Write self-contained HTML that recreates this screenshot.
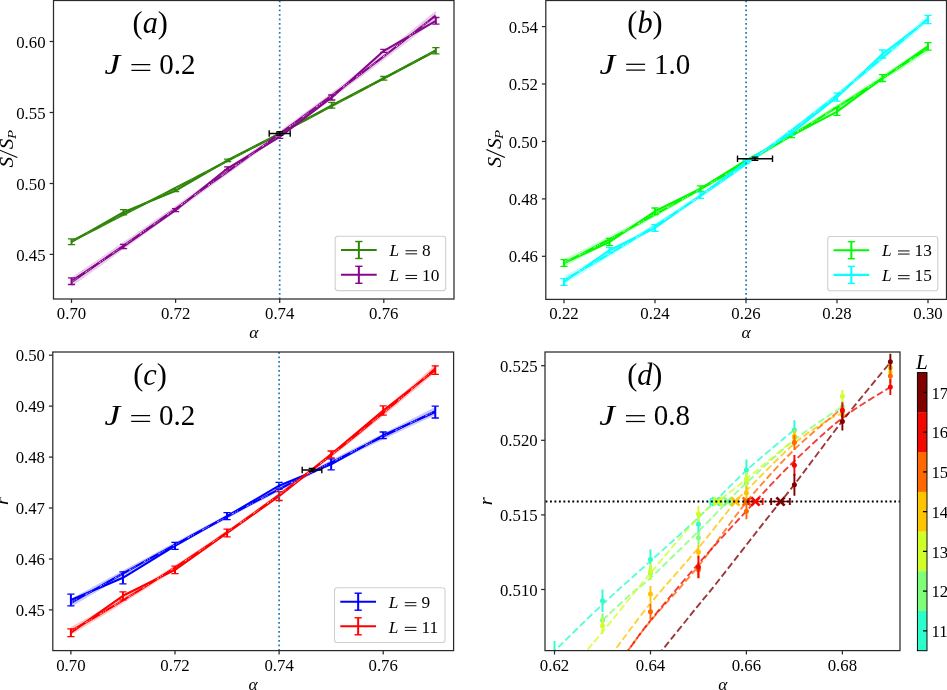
<!DOCTYPE html>
<html><head><meta charset="utf-8"><title>figure</title>
<style>html,body{margin:0;padding:0;background:#fff;}body{width:947px;height:690px;overflow:hidden;font-family:"Liberation Serif",serif;}svg{display:block;will-change:transform;}</style></head>
<body>
<svg width="947" height="690" viewBox="0 0 947 690" font-family="'Liberation Serif', serif">
<rect width="947" height="690" fill="#fff"/>
<g id="pa">
<clipPath id="ca"><rect x="53.5" y="0.5" width="400.5" height="298.5"/></clipPath>
<g clip-path="url(#ca)">
<polygon points="71.5,239.63 80.84,234.94 90.18,230.23 99.53,225.52 108.87,220.79 118.21,216.06 127.55,211.31 136.9,206.55 146.24,201.78 155.58,197.01 164.92,192.22 174.27,187.42 183.61,182.61 192.95,177.79 202.29,172.96 211.63,168.12 220.98,163.27 230.32,158.41 239.66,153.54 249,148.66 258.35,143.77 267.69,138.86 277.03,133.95 286.37,129.03 295.72,124.09 305.06,119.15 314.4,114.2 323.74,109.23 333.08,104.26 342.43,99.27 351.77,94.28 361.11,89.27 370.45,84.25 379.8,79.23 389.14,74.19 398.48,69.14 407.82,64.09 417.17,59.02 426.51,53.94 435.85,48.85 435.85,52.05 426.51,57.02 417.17,61.98 407.82,66.94 398.48,71.9 389.14,76.85 379.8,81.8 370.45,86.75 361.11,91.69 351.77,96.62 342.43,101.56 333.08,106.49 323.74,111.41 314.4,116.33 305.06,121.25 295.72,126.16 286.37,131.07 277.03,135.97 267.69,140.87 258.35,145.77 249,150.66 239.66,155.55 230.32,160.43 220.98,165.31 211.63,170.18 202.29,175.06 192.95,179.92 183.61,184.79 174.27,189.65 164.92,194.5 155.58,199.35 146.24,204.2 136.9,209.04 127.55,213.88 118.21,218.72 108.87,223.55 99.53,228.38 90.18,233.2 80.84,238.02 71.5,242.83" fill="#2e8506" fill-opacity="0.18"/>
<polyline points="71.5,241.8 123.55,212.2 175.6,190.7 227.65,160.3 279.7,133.6 331.75,105.3 383.8,78.3 435.85,50.8" fill="none" stroke="#2e8506" stroke-width="2.1" stroke-linejoin="round"/>
<polyline points="71.5,241.23 80.84,236.48 90.18,231.72 99.53,226.95 108.87,222.17 118.21,217.39 127.55,212.6 136.9,207.8 146.24,202.99 155.58,198.18 164.92,193.36 174.27,188.53 183.61,183.7 192.95,178.86 202.29,174.01 211.63,169.15 220.98,164.29 230.32,159.42 239.66,154.54 249,149.66 258.35,144.77 267.69,139.87 277.03,134.96 286.37,130.05 295.72,125.13 305.06,120.2 314.4,115.26 323.74,110.32 333.08,105.37 342.43,100.41 351.77,95.45 361.11,90.48 370.45,85.5 379.8,80.52 389.14,75.52 398.48,70.52 407.82,65.51 417.17,60.5 426.51,55.48 435.85,50.45" fill="none" stroke="#2e8506" stroke-width="2.1" />
<polyline points="71.5,241.23 80.84,236.48 90.18,231.72 99.53,226.95 108.87,222.17 118.21,217.39 127.55,212.6 136.9,207.8 146.24,202.99 155.58,198.18 164.92,193.36 174.27,188.53 183.61,183.7 192.95,178.86 202.29,174.01 211.63,169.15 220.98,164.29 230.32,159.42 239.66,154.54 249,149.66 258.35,144.77 267.69,139.87 277.03,134.96 286.37,130.05 295.72,125.13 305.06,120.2 314.4,115.26 323.74,110.32 333.08,105.37 342.43,100.41 351.77,95.45 361.11,90.48 370.45,85.5 379.8,80.52 389.14,75.52 398.48,70.52 407.82,65.51 417.17,60.5 426.51,55.48 435.85,50.45" fill="none" stroke="#fff" stroke-width="0.9" stroke-dasharray="2.6 1.3 1 1.3 1 9.5" stroke-opacity="0.192"/>
<line x1="71.5" y1="238.9" x2="71.5" y2="244.7" stroke="#2e8506" stroke-width="2" />
<line x1="67.9" y1="238.9" x2="75.1" y2="238.9" stroke="#2e8506" stroke-width="1.3" />
<line x1="67.9" y1="244.7" x2="75.1" y2="244.7" stroke="#2e8506" stroke-width="1.3" />
<line x1="123.55" y1="209.6" x2="123.55" y2="214.8" stroke="#2e8506" stroke-width="2" />
<line x1="119.95" y1="209.6" x2="127.15" y2="209.6" stroke="#2e8506" stroke-width="1.3" />
<line x1="119.95" y1="214.8" x2="127.15" y2="214.8" stroke="#2e8506" stroke-width="1.3" />
<line x1="175.6" y1="189.7" x2="175.6" y2="191.7" stroke="#2e8506" stroke-width="2" />
<line x1="172" y1="189.7" x2="179.2" y2="189.7" stroke="#2e8506" stroke-width="1.3" />
<line x1="172" y1="191.7" x2="179.2" y2="191.7" stroke="#2e8506" stroke-width="1.3" />
<line x1="227.65" y1="159.1" x2="227.65" y2="161.5" stroke="#2e8506" stroke-width="2" />
<line x1="224.05" y1="159.1" x2="231.25" y2="159.1" stroke="#2e8506" stroke-width="1.3" />
<line x1="224.05" y1="161.5" x2="231.25" y2="161.5" stroke="#2e8506" stroke-width="1.3" />
<line x1="279.7" y1="132.6" x2="279.7" y2="134.6" stroke="#2e8506" stroke-width="2" />
<line x1="276.1" y1="132.6" x2="283.3" y2="132.6" stroke="#2e8506" stroke-width="1.3" />
<line x1="276.1" y1="134.6" x2="283.3" y2="134.6" stroke="#2e8506" stroke-width="1.3" />
<line x1="331.75" y1="102.4" x2="331.75" y2="108.2" stroke="#2e8506" stroke-width="2" />
<line x1="328.15" y1="102.4" x2="335.35" y2="102.4" stroke="#2e8506" stroke-width="1.3" />
<line x1="328.15" y1="108.2" x2="335.35" y2="108.2" stroke="#2e8506" stroke-width="1.3" />
<line x1="383.8" y1="76.5" x2="383.8" y2="80.1" stroke="#2e8506" stroke-width="2" />
<line x1="380.2" y1="76.5" x2="387.4" y2="76.5" stroke="#2e8506" stroke-width="1.3" />
<line x1="380.2" y1="80.1" x2="387.4" y2="80.1" stroke="#2e8506" stroke-width="1.3" />
<line x1="435.85" y1="47.7" x2="435.85" y2="53.9" stroke="#2e8506" stroke-width="2" />
<line x1="432.25" y1="47.7" x2="439.45" y2="47.7" stroke="#2e8506" stroke-width="1.3" />
<line x1="432.25" y1="53.9" x2="439.45" y2="53.9" stroke="#2e8506" stroke-width="1.3" />
<polygon points="71.5,277.35 80.84,271.05 90.18,264.73 99.53,258.38 108.87,252 118.21,245.6 127.55,239.17 136.9,232.72 146.24,226.25 155.58,219.74 164.92,213.22 174.27,206.67 183.61,200.09 192.95,193.49 202.29,186.87 211.63,180.22 220.98,173.54 230.32,166.84 239.66,160.12 249,153.37 258.35,146.59 267.69,139.79 277.03,132.97 286.37,126.12 295.72,119.25 305.06,112.35 314.4,105.42 323.74,98.47 333.08,91.49 342.43,84.4 351.77,77.29 361.11,70.15 370.45,62.99 379.8,55.8 389.14,48.43 398.48,40.92 407.82,33.39 417.17,25.83 426.51,18.25 435.85,10.65 435.85,20.05 426.51,27.25 417.17,34.46 407.82,41.66 398.48,48.85 389.14,56.04 379.8,63.11 370.45,70.03 361.11,76.94 351.77,83.85 342.43,90.75 333.08,97.65 323.74,104.47 314.4,111.27 305.06,118.07 295.72,124.86 286.37,131.65 277.03,138.44 267.69,145.22 258.35,152 249,158.77 239.66,165.54 230.32,172.31 220.98,179.07 211.63,185.83 202.29,192.59 192.95,199.34 183.61,206.09 174.27,212.83 164.92,219.57 155.58,226.3 146.24,233.04 136.9,239.76 127.55,246.49 118.21,253.21 108.87,259.93 99.53,266.64 90.18,273.35 80.84,280.05 71.5,286.75" fill="#86078a" fill-opacity="0.2"/>
<polyline points="71.5,281.2 123.55,246.5 175.6,210.1 227.65,168.3 279.7,136.9 331.75,97.5 383.8,50.8 435.85,20.8" fill="none" stroke="#86078a" stroke-width="2.1" stroke-linejoin="round"/>
<polyline points="71.5,282.05 80.84,275.55 90.18,269.04 99.53,262.51 108.87,255.96 118.21,249.4 127.55,242.83 136.9,236.24 146.24,229.64 155.58,223.02 164.92,216.39 174.27,209.75 183.61,203.09 192.95,196.42 202.29,189.73 211.63,183.02 220.98,176.31 230.32,169.58 239.66,162.83 249,156.07 258.35,149.3 267.69,142.51 277.03,135.7 286.37,128.89 295.72,122.05 305.06,115.21 314.4,108.35 323.74,101.47 333.08,94.57 342.43,87.57 351.77,80.57 361.11,73.54 370.45,66.51 379.8,59.46 389.14,52.24 398.48,44.89 407.82,37.52 417.17,30.15 426.51,22.75 435.85,15.35" fill="none" stroke="#86078a" stroke-width="2.1" />
<polyline points="71.5,282.05 80.84,275.55 90.18,269.04 99.53,262.51 108.87,255.96 118.21,249.4 127.55,242.83 136.9,236.24 146.24,229.64 155.58,223.02 164.92,216.39 174.27,209.75 183.61,203.09 192.95,196.42 202.29,189.73 211.63,183.02 220.98,176.31 230.32,169.58 239.66,162.83 249,156.07 258.35,149.3 267.69,142.51 277.03,135.7 286.37,128.89 295.72,122.05 305.06,115.21 314.4,108.35 323.74,101.47 333.08,94.57 342.43,87.57 351.77,80.57 361.11,73.54 370.45,66.51 379.8,59.46 389.14,52.24 398.48,44.89 407.82,37.52 417.17,30.15 426.51,22.75 435.85,15.35" fill="none" stroke="#fff" stroke-width="0.9" stroke-dasharray="2.6 1.3 1 1.3 1 9.5" stroke-opacity="0.8"/>
<line x1="71.5" y1="277.9" x2="71.5" y2="284.5" stroke="#86078a" stroke-width="2" />
<line x1="67.9" y1="277.9" x2="75.1" y2="277.9" stroke="#86078a" stroke-width="1.3" />
<line x1="67.9" y1="284.5" x2="75.1" y2="284.5" stroke="#86078a" stroke-width="1.3" />
<line x1="123.55" y1="244.3" x2="123.55" y2="248.7" stroke="#86078a" stroke-width="2" />
<line x1="119.95" y1="244.3" x2="127.15" y2="244.3" stroke="#86078a" stroke-width="1.3" />
<line x1="119.95" y1="248.7" x2="127.15" y2="248.7" stroke="#86078a" stroke-width="1.3" />
<line x1="175.6" y1="208.6" x2="175.6" y2="211.6" stroke="#86078a" stroke-width="2" />
<line x1="172" y1="208.6" x2="179.2" y2="208.6" stroke="#86078a" stroke-width="1.3" />
<line x1="172" y1="211.6" x2="179.2" y2="211.6" stroke="#86078a" stroke-width="1.3" />
<line x1="227.65" y1="166.8" x2="227.65" y2="169.8" stroke="#86078a" stroke-width="2" />
<line x1="224.05" y1="166.8" x2="231.25" y2="166.8" stroke="#86078a" stroke-width="1.3" />
<line x1="224.05" y1="169.8" x2="231.25" y2="169.8" stroke="#86078a" stroke-width="1.3" />
<line x1="279.7" y1="135.4" x2="279.7" y2="138.4" stroke="#86078a" stroke-width="2" />
<line x1="276.1" y1="135.4" x2="283.3" y2="135.4" stroke="#86078a" stroke-width="1.3" />
<line x1="276.1" y1="138.4" x2="283.3" y2="138.4" stroke="#86078a" stroke-width="1.3" />
<line x1="331.75" y1="95" x2="331.75" y2="100" stroke="#86078a" stroke-width="2" />
<line x1="328.15" y1="95" x2="335.35" y2="95" stroke="#86078a" stroke-width="1.3" />
<line x1="328.15" y1="100" x2="335.35" y2="100" stroke="#86078a" stroke-width="1.3" />
<line x1="383.8" y1="49.3" x2="383.8" y2="52.3" stroke="#86078a" stroke-width="2" />
<line x1="380.2" y1="49.3" x2="387.4" y2="49.3" stroke="#86078a" stroke-width="1.3" />
<line x1="380.2" y1="52.3" x2="387.4" y2="52.3" stroke="#86078a" stroke-width="1.3" />
<line x1="435.85" y1="17.5" x2="435.85" y2="24.1" stroke="#86078a" stroke-width="2" />
<line x1="432.25" y1="17.5" x2="439.45" y2="17.5" stroke="#86078a" stroke-width="1.3" />
<line x1="432.25" y1="24.1" x2="439.45" y2="24.1" stroke="#86078a" stroke-width="1.3" />
<line x1="279.7" y1="0.5" x2="279.7" y2="299" stroke="#1f77b4" stroke-width="1.7" stroke-dasharray="1.7 2.8"/>
<line x1="269.2" y1="133.5" x2="290.2" y2="133.5" stroke="#000" stroke-width="1.6" />
<line x1="269.2" y1="130.2" x2="269.2" y2="136.8" stroke="#000" stroke-width="1.4" />
<line x1="290.2" y1="130.2" x2="290.2" y2="136.8" stroke="#000" stroke-width="1.4" />
<line x1="279.7" y1="131.6" x2="279.7" y2="135.4" stroke="#000" stroke-width="1.6" />
<line x1="276.4" y1="131.6" x2="283" y2="131.6" stroke="#000" stroke-width="1.2" />
<line x1="276.4" y1="135.4" x2="283" y2="135.4" stroke="#000" stroke-width="1.2" />
</g>
<rect x="335.2" y="236.3" width="110.5" height="54.3" rx="2.8" fill="#fff" fill-opacity="0.8" stroke="#cfcfcf" stroke-width="1.1"/>
<line x1="341" y1="250" x2="376.7" y2="250" stroke="#2e8506" stroke-width="2.1" />
<line x1="358.85" y1="241.5" x2="358.85" y2="258.5" stroke="#2e8506" stroke-width="2.0" />
<line x1="355.25" y1="241.5" x2="362.45" y2="241.5" stroke="#2e8506" stroke-width="1.4" />
<line x1="355.25" y1="258.5" x2="362.45" y2="258.5" stroke="#2e8506" stroke-width="1.4" />
<text transform="translate(389.4,256.2) scale(1.0,1.0)" font-size="17.3" text-anchor="start" fill="#000" ><tspan font-style="italic">L</tspan></text>
<line x1="405.5" y1="250.75" x2="417.1" y2="250.75" stroke="#000" stroke-width="0.95" />
<line x1="405.5" y1="253.85" x2="417.1" y2="253.85" stroke="#000" stroke-width="0.95" />
<text transform="translate(422.1,256.2) scale(1.0,1.0)" font-size="17.3" text-anchor="start" fill="#000" >8</text>
<line x1="341" y1="274.8" x2="376.7" y2="274.8" stroke="#86078a" stroke-width="2.1" />
<line x1="358.85" y1="266.3" x2="358.85" y2="283.3" stroke="#86078a" stroke-width="2.0" />
<line x1="355.25" y1="266.3" x2="362.45" y2="266.3" stroke="#86078a" stroke-width="1.4" />
<line x1="355.25" y1="283.3" x2="362.45" y2="283.3" stroke="#86078a" stroke-width="1.4" />
<text transform="translate(389.4,280.9) scale(1.0,1.0)" font-size="17.3" text-anchor="start" fill="#000" ><tspan font-style="italic">L</tspan></text>
<line x1="405.5" y1="275.45" x2="417.1" y2="275.45" stroke="#000" stroke-width="0.95" />
<line x1="405.5" y1="278.55" x2="417.1" y2="278.55" stroke="#000" stroke-width="0.95" />
<text transform="translate(422.1,280.9) scale(1.0,1.0)" font-size="17.3" text-anchor="start" fill="#000" >10</text>
<rect x="53.5" y="0.5" width="400.5" height="298.5" fill="none" stroke="#2a2a2a" stroke-width="1.25"/>
<line x1="71.5" y1="299" x2="71.5" y2="302.9" stroke="#2a2a2a" stroke-width="1.25" />
<text transform="translate(71.5,319) scale(1.0,1.0)" font-size="16.8" text-anchor="middle" fill="#000" >0.70</text>
<line x1="175.6" y1="299" x2="175.6" y2="302.9" stroke="#2a2a2a" stroke-width="1.25" />
<text transform="translate(175.6,319) scale(1.0,1.0)" font-size="16.8" text-anchor="middle" fill="#000" >0.72</text>
<line x1="279.7" y1="299" x2="279.7" y2="302.9" stroke="#2a2a2a" stroke-width="1.25" />
<text transform="translate(279.7,319) scale(1.0,1.0)" font-size="16.8" text-anchor="middle" fill="#000" >0.74</text>
<line x1="383.8" y1="299" x2="383.8" y2="302.9" stroke="#2a2a2a" stroke-width="1.25" />
<text transform="translate(383.8,319) scale(1.0,1.0)" font-size="16.8" text-anchor="middle" fill="#000" >0.76</text>
<line x1="49.6" y1="41.5" x2="53.5" y2="41.5" stroke="#2a2a2a" stroke-width="1.25" />
<text transform="translate(45.6,47.6) scale(1.0,1.0)" font-size="16.8" text-anchor="end" fill="#000" >0.60</text>
<line x1="49.6" y1="112.5" x2="53.5" y2="112.5" stroke="#2a2a2a" stroke-width="1.25" />
<text transform="translate(45.6,118.6) scale(1.0,1.0)" font-size="16.8" text-anchor="end" fill="#000" >0.55</text>
<line x1="49.6" y1="183.5" x2="53.5" y2="183.5" stroke="#2a2a2a" stroke-width="1.25" />
<text transform="translate(45.6,189.6) scale(1.0,1.0)" font-size="16.8" text-anchor="end" fill="#000" >0.50</text>
<line x1="49.6" y1="254.4" x2="53.5" y2="254.4" stroke="#2a2a2a" stroke-width="1.25" />
<text transform="translate(45.6,260.5) scale(1.0,1.0)" font-size="16.8" text-anchor="end" fill="#000" >0.45</text>
<text transform="translate(150.2,33) scale(1.0,1.05)" font-size="30.3" text-anchor="middle" fill="#000" >(<tspan font-style="italic">a</tspan>)</text>
<text transform="translate(104.6,74.3) scale(1.22,1.0)" font-size="29.0" text-anchor="start" fill="#000" ><tspan font-style="italic">J</tspan></text>
<line x1="131.4" y1="64.6" x2="150.3" y2="64.6" stroke="#000" stroke-width="1.25" />
<line x1="131.4" y1="70.4" x2="150.3" y2="70.4" stroke="#000" stroke-width="1.25" />
<text transform="translate(159.2,74.3) scale(1.0,1.0)" font-size="29.0" text-anchor="start" fill="#000" >0.2</text>
<text transform="translate(253.9,338.3) scale(1.0,1.0)" font-size="17.5" text-anchor="middle" fill="#000" ><tspan font-style="italic">α</tspan></text>
<g transform="translate(13,148.7) rotate(-90)">
<g transform="scale(1.17,1)" font-style="italic" font-size="18.2">
<text x="-16.15" y="0">S</text>
<text x="-0.51" y="0">S</text>
<text x="8.21" y="2.7" font-size="12.6">P</text>
</g>
<line x1="-8.9" y1="4.3" x2="-1" y2="-14.2" stroke="#000" stroke-width="1.05" />
</g>
</g>
<g id="pb">
<clipPath id="cb"><rect x="545.8" y="0.5" width="400.70000000000005" height="298.9"/></clipPath>
<g clip-path="url(#cb)">
<polygon points="564,258.98 573.33,254.37 582.67,249.72 592,245.01 601.33,240.26 610.67,235.47 620,230.62 629.33,225.73 638.67,220.79 648,215.8 657.33,210.77 666.67,205.69 676,200.56 685.33,195.38 694.67,190.16 704,184.89 713.33,179.57 722.67,174.21 732,168.8 741.33,163.34 750.67,157.83 760,152.28 769.33,146.68 778.67,141.03 788,135.34 797.33,129.6 806.67,123.81 816,117.97 825.33,112.09 834.67,106.16 844,100.18 853.33,94.16 862.67,88.09 872,81.97 881.33,75.8 890.67,69.59 900,63.33 909.33,57.02 918.67,50.67 928,44.26 928,52.26 918.67,58.27 909.33,64.24 900,70.19 890.67,76.12 881.33,82.01 872,87.88 862.67,93.73 853.33,99.55 844,105.34 834.67,111.11 825.33,116.85 816,122.56 806.67,128.25 797.33,133.92 788,139.55 778.67,145.16 769.33,150.75 760,156.3 750.67,161.84 741.33,167.34 732,172.82 722.67,178.27 713.33,183.7 704,189.1 694.67,194.48 685.33,199.83 676,205.15 666.67,210.45 657.33,215.72 648,220.96 638.67,226.18 629.33,231.37 620,236.54 610.67,241.68 601.33,246.79 592,251.88 582.67,256.94 573.33,261.98 564,266.98" fill="#00fb00" fill-opacity="0.22"/>
<polyline points="564,263 609.5,242 655,211.3 700.5,188.6 746,160.5 791.5,135.7 837,111.6 882.5,78.1 928,46.4" fill="none" stroke="#00fb00" stroke-width="2.1" stroke-linejoin="round"/>
<polyline points="564,262.98 573.33,258.17 582.67,253.33 592,248.45 601.33,243.53 610.67,238.57 620,233.58 629.33,228.55 638.67,223.48 648,218.38 657.33,213.24 666.67,208.07 676,202.85 685.33,197.6 694.67,192.32 704,187 713.33,181.64 722.67,176.24 732,170.81 741.33,165.34 750.67,159.83 760,154.29 769.33,148.71 778.67,143.1 788,137.45 797.33,131.76 806.67,126.03 816,120.27 825.33,114.47 834.67,108.63 844,102.76 853.33,96.85 862.67,90.91 872,84.93 881.33,78.91 890.67,72.85 900,66.76 909.33,60.63 918.67,54.47 928,48.26" fill="none" stroke="#00fb00" stroke-width="2.1" />
<polyline points="564,262.98 573.33,258.17 582.67,253.33 592,248.45 601.33,243.53 610.67,238.57 620,233.58 629.33,228.55 638.67,223.48 648,218.38 657.33,213.24 666.67,208.07 676,202.85 685.33,197.6 694.67,192.32 704,187 713.33,181.64 722.67,176.24 732,170.81 741.33,165.34 750.67,159.83 760,154.29 769.33,148.71 778.67,143.1 788,137.45 797.33,131.76 806.67,126.03 816,120.27 825.33,114.47 834.67,108.63 844,102.76 853.33,96.85 862.67,90.91 872,84.93 881.33,78.91 890.67,72.85 900,66.76 909.33,60.63 918.67,54.47 928,48.26" fill="none" stroke="#fff" stroke-width="0.9" stroke-dasharray="2.6 1.3 1 1.3 1 9.5" stroke-opacity="0.8"/>
<line x1="564" y1="259.6" x2="564" y2="266.4" stroke="#00fb00" stroke-width="2" />
<line x1="560.4" y1="259.6" x2="567.6" y2="259.6" stroke="#00fb00" stroke-width="1.3" />
<line x1="560.4" y1="266.4" x2="567.6" y2="266.4" stroke="#00fb00" stroke-width="1.3" />
<line x1="609.5" y1="238.3" x2="609.5" y2="245.7" stroke="#00fb00" stroke-width="2" />
<line x1="605.9" y1="238.3" x2="613.1" y2="238.3" stroke="#00fb00" stroke-width="1.3" />
<line x1="605.9" y1="245.7" x2="613.1" y2="245.7" stroke="#00fb00" stroke-width="1.3" />
<line x1="655" y1="208" x2="655" y2="214.6" stroke="#00fb00" stroke-width="2" />
<line x1="651.4" y1="208" x2="658.6" y2="208" stroke="#00fb00" stroke-width="1.3" />
<line x1="651.4" y1="214.6" x2="658.6" y2="214.6" stroke="#00fb00" stroke-width="1.3" />
<line x1="700.5" y1="185.9" x2="700.5" y2="191.3" stroke="#00fb00" stroke-width="2" />
<line x1="696.9" y1="185.9" x2="704.1" y2="185.9" stroke="#00fb00" stroke-width="1.3" />
<line x1="696.9" y1="191.3" x2="704.1" y2="191.3" stroke="#00fb00" stroke-width="1.3" />
<line x1="746" y1="159" x2="746" y2="162" stroke="#00fb00" stroke-width="2" />
<line x1="742.4" y1="159" x2="749.6" y2="159" stroke="#00fb00" stroke-width="1.3" />
<line x1="742.4" y1="162" x2="749.6" y2="162" stroke="#00fb00" stroke-width="1.3" />
<line x1="791.5" y1="133.7" x2="791.5" y2="137.7" stroke="#00fb00" stroke-width="2" />
<line x1="787.9" y1="133.7" x2="795.1" y2="133.7" stroke="#00fb00" stroke-width="1.3" />
<line x1="787.9" y1="137.7" x2="795.1" y2="137.7" stroke="#00fb00" stroke-width="1.3" />
<line x1="837" y1="107.8" x2="837" y2="115.4" stroke="#00fb00" stroke-width="2" />
<line x1="833.4" y1="107.8" x2="840.6" y2="107.8" stroke="#00fb00" stroke-width="1.3" />
<line x1="833.4" y1="115.4" x2="840.6" y2="115.4" stroke="#00fb00" stroke-width="1.3" />
<line x1="882.5" y1="74.7" x2="882.5" y2="81.5" stroke="#00fb00" stroke-width="2" />
<line x1="878.9" y1="74.7" x2="886.1" y2="74.7" stroke="#00fb00" stroke-width="1.3" />
<line x1="878.9" y1="81.5" x2="886.1" y2="81.5" stroke="#00fb00" stroke-width="1.3" />
<line x1="928" y1="42.7" x2="928" y2="50.1" stroke="#00fb00" stroke-width="2" />
<line x1="924.4" y1="42.7" x2="931.6" y2="42.7" stroke="#00fb00" stroke-width="1.3" />
<line x1="924.4" y1="50.1" x2="931.6" y2="50.1" stroke="#00fb00" stroke-width="1.3" />
<polygon points="564,276.12 573.33,271.09 582.67,265.97 592,260.77 601.33,255.47 610.67,250.09 620,244.62 629.33,239.06 638.67,233.41 648,227.67 657.33,221.85 666.67,215.93 676,209.93 685.33,203.84 694.67,197.66 704,191.39 713.33,185.04 722.67,178.6 732,172.06 741.33,165.44 750.67,158.73 760,151.94 769.33,145.05 778.67,138.08 788,131.02 797.33,123.87 806.67,116.63 816,109.3 825.33,101.88 834.67,94.38 844,86.79 853.33,79.11 862.67,71.34 872,63.48 881.33,55.53 890.67,47.5 900,39.38 909.33,31.17 918.67,22.87 928,14.48 928,22.48 918.67,30.47 909.33,38.39 900,46.24 890.67,54.03 881.33,61.75 872,69.4 862.67,76.98 853.33,84.5 844,91.95 834.67,99.33 825.33,106.64 816,113.89 806.67,121.07 797.33,128.18 788,135.23 778.67,142.21 769.33,149.12 760,155.96 750.67,162.74 741.33,169.45 732,176.09 722.67,182.66 713.33,189.17 704,195.61 694.67,201.98 685.33,208.28 676,214.52 666.67,220.69 657.33,226.79 648,232.83 638.67,238.8 629.33,244.7 620,250.53 610.67,256.3 601.33,262 592,267.63 582.67,273.19 573.33,278.69 564,284.12" fill="#08ffff" fill-opacity="0.22"/>
<polyline points="564,282 609.5,250.2 655,228 700.5,195.3 746,162 791.5,133.2 837,97.2 882.5,54 928,19.5" fill="none" stroke="#08ffff" stroke-width="2.1" stroke-linejoin="round"/>
<polyline points="564,280.12 573.33,274.89 582.67,269.58 592,264.2 601.33,258.73 610.67,253.19 620,247.57 629.33,241.88 638.67,236.1 648,230.25 657.33,224.32 666.67,218.31 676,212.23 685.33,206.06 694.67,199.82 704,193.5 713.33,187.1 722.67,180.63 732,174.08 741.33,167.44 750.67,160.74 760,153.95 769.33,147.08 778.67,140.14 788,133.12 797.33,126.02 806.67,118.85 816,111.6 825.33,104.26 834.67,96.85 844,89.37 853.33,81.8 862.67,74.16 872,66.44 881.33,58.64 890.67,50.76 900,42.81 909.33,34.78 918.67,26.67 928,18.48" fill="none" stroke="#08ffff" stroke-width="2.1" />
<polyline points="564,280.12 573.33,274.89 582.67,269.58 592,264.2 601.33,258.73 610.67,253.19 620,247.57 629.33,241.88 638.67,236.1 648,230.25 657.33,224.32 666.67,218.31 676,212.23 685.33,206.06 694.67,199.82 704,193.5 713.33,187.1 722.67,180.63 732,174.08 741.33,167.44 750.67,160.74 760,153.95 769.33,147.08 778.67,140.14 788,133.12 797.33,126.02 806.67,118.85 816,111.6 825.33,104.26 834.67,96.85 844,89.37 853.33,81.8 862.67,74.16 872,66.44 881.33,58.64 890.67,50.76 900,42.81 909.33,34.78 918.67,26.67 928,18.48" fill="none" stroke="#fff" stroke-width="0.9" stroke-dasharray="2.6 1.3 1 1.3 1 9.5" stroke-opacity="0.8"/>
<line x1="564" y1="278.7" x2="564" y2="285.3" stroke="#08ffff" stroke-width="2" />
<line x1="560.4" y1="278.7" x2="567.6" y2="278.7" stroke="#08ffff" stroke-width="1.3" />
<line x1="560.4" y1="285.3" x2="567.6" y2="285.3" stroke="#08ffff" stroke-width="1.3" />
<line x1="609.5" y1="247.7" x2="609.5" y2="252.7" stroke="#08ffff" stroke-width="2" />
<line x1="605.9" y1="247.7" x2="613.1" y2="247.7" stroke="#08ffff" stroke-width="1.3" />
<line x1="605.9" y1="252.7" x2="613.1" y2="252.7" stroke="#08ffff" stroke-width="1.3" />
<line x1="655" y1="224.7" x2="655" y2="231.3" stroke="#08ffff" stroke-width="2" />
<line x1="651.4" y1="224.7" x2="658.6" y2="224.7" stroke="#08ffff" stroke-width="1.3" />
<line x1="651.4" y1="231.3" x2="658.6" y2="231.3" stroke="#08ffff" stroke-width="1.3" />
<line x1="700.5" y1="192.2" x2="700.5" y2="198.4" stroke="#08ffff" stroke-width="2" />
<line x1="696.9" y1="192.2" x2="704.1" y2="192.2" stroke="#08ffff" stroke-width="1.3" />
<line x1="696.9" y1="198.4" x2="704.1" y2="198.4" stroke="#08ffff" stroke-width="1.3" />
<line x1="746" y1="160.5" x2="746" y2="163.5" stroke="#08ffff" stroke-width="2" />
<line x1="742.4" y1="160.5" x2="749.6" y2="160.5" stroke="#08ffff" stroke-width="1.3" />
<line x1="742.4" y1="163.5" x2="749.6" y2="163.5" stroke="#08ffff" stroke-width="1.3" />
<line x1="791.5" y1="131.2" x2="791.5" y2="135.2" stroke="#08ffff" stroke-width="2" />
<line x1="787.9" y1="131.2" x2="795.1" y2="131.2" stroke="#08ffff" stroke-width="1.3" />
<line x1="787.9" y1="135.2" x2="795.1" y2="135.2" stroke="#08ffff" stroke-width="1.3" />
<line x1="837" y1="93.2" x2="837" y2="101.2" stroke="#08ffff" stroke-width="2" />
<line x1="833.4" y1="93.2" x2="840.6" y2="93.2" stroke="#08ffff" stroke-width="1.3" />
<line x1="833.4" y1="101.2" x2="840.6" y2="101.2" stroke="#08ffff" stroke-width="1.3" />
<line x1="882.5" y1="50" x2="882.5" y2="58" stroke="#08ffff" stroke-width="2" />
<line x1="878.9" y1="50" x2="886.1" y2="50" stroke="#08ffff" stroke-width="1.3" />
<line x1="878.9" y1="58" x2="886.1" y2="58" stroke="#08ffff" stroke-width="1.3" />
<line x1="928" y1="15.3" x2="928" y2="23.7" stroke="#08ffff" stroke-width="2" />
<line x1="924.4" y1="15.3" x2="931.6" y2="15.3" stroke="#08ffff" stroke-width="1.3" />
<line x1="924.4" y1="23.7" x2="931.6" y2="23.7" stroke="#08ffff" stroke-width="1.3" />
<line x1="746.1" y1="0.5" x2="746.1" y2="299.4" stroke="#1f77b4" stroke-width="1.7" stroke-dasharray="1.7 2.8"/>
<line x1="737.5" y1="158.7" x2="772.5" y2="158.7" stroke="#000" stroke-width="1.6" />
<line x1="737.5" y1="155.4" x2="737.5" y2="162" stroke="#000" stroke-width="1.4" />
<line x1="772.5" y1="155.4" x2="772.5" y2="162" stroke="#000" stroke-width="1.4" />
<line x1="755" y1="157.1" x2="755" y2="160.3" stroke="#000" stroke-width="1.6" />
<line x1="751.7" y1="157.1" x2="758.3" y2="157.1" stroke="#000" stroke-width="1.2" />
<line x1="751.7" y1="160.3" x2="758.3" y2="160.3" stroke="#000" stroke-width="1.2" />
</g>
<rect x="827.7" y="236.5" width="110.1" height="54.2" rx="2.8" fill="#fff" fill-opacity="0.8" stroke="#cfcfcf" stroke-width="1.1"/>
<line x1="833.5" y1="250.2" x2="869.2" y2="250.2" stroke="#00fb00" stroke-width="2.1" />
<line x1="851.35" y1="241.7" x2="851.35" y2="258.7" stroke="#00fb00" stroke-width="2.0" />
<line x1="847.75" y1="241.7" x2="854.95" y2="241.7" stroke="#00fb00" stroke-width="1.4" />
<line x1="847.75" y1="258.7" x2="854.95" y2="258.7" stroke="#00fb00" stroke-width="1.4" />
<text transform="translate(881.9,256.4) scale(1.0,1.0)" font-size="17.3" text-anchor="start" fill="#000" ><tspan font-style="italic">L</tspan></text>
<line x1="898" y1="250.95" x2="909.6" y2="250.95" stroke="#000" stroke-width="0.95" />
<line x1="898" y1="254.05" x2="909.6" y2="254.05" stroke="#000" stroke-width="0.95" />
<text transform="translate(914.6,256.4) scale(1.0,1.0)" font-size="17.3" text-anchor="start" fill="#000" >13</text>
<line x1="833.5" y1="274.9" x2="869.2" y2="274.9" stroke="#08ffff" stroke-width="2.1" />
<line x1="851.35" y1="266.4" x2="851.35" y2="283.4" stroke="#08ffff" stroke-width="2.0" />
<line x1="847.75" y1="266.4" x2="854.95" y2="266.4" stroke="#08ffff" stroke-width="1.4" />
<line x1="847.75" y1="283.4" x2="854.95" y2="283.4" stroke="#08ffff" stroke-width="1.4" />
<text transform="translate(881.9,281.1) scale(1.0,1.0)" font-size="17.3" text-anchor="start" fill="#000" ><tspan font-style="italic">L</tspan></text>
<line x1="898" y1="275.65" x2="909.6" y2="275.65" stroke="#000" stroke-width="0.95" />
<line x1="898" y1="278.75" x2="909.6" y2="278.75" stroke="#000" stroke-width="0.95" />
<text transform="translate(914.6,281.1) scale(1.0,1.0)" font-size="17.3" text-anchor="start" fill="#000" >15</text>
<rect x="545.8" y="0.5" width="400.7" height="298.9" fill="none" stroke="#2a2a2a" stroke-width="1.25"/>
<line x1="564" y1="299.4" x2="564" y2="303.3" stroke="#2a2a2a" stroke-width="1.25" />
<text transform="translate(564,319.3) scale(1.0,1.0)" font-size="16.8" text-anchor="middle" fill="#000" >0.22</text>
<line x1="655" y1="299.4" x2="655" y2="303.3" stroke="#2a2a2a" stroke-width="1.25" />
<text transform="translate(655,319.3) scale(1.0,1.0)" font-size="16.8" text-anchor="middle" fill="#000" >0.24</text>
<line x1="746" y1="299.4" x2="746" y2="303.3" stroke="#2a2a2a" stroke-width="1.25" />
<text transform="translate(746,319.3) scale(1.0,1.0)" font-size="16.8" text-anchor="middle" fill="#000" >0.26</text>
<line x1="837" y1="299.4" x2="837" y2="303.3" stroke="#2a2a2a" stroke-width="1.25" />
<text transform="translate(837,319.3) scale(1.0,1.0)" font-size="16.8" text-anchor="middle" fill="#000" >0.28</text>
<line x1="928" y1="299.4" x2="928" y2="303.3" stroke="#2a2a2a" stroke-width="1.25" />
<text transform="translate(928,319.3) scale(1.0,1.0)" font-size="16.8" text-anchor="middle" fill="#000" >0.30</text>
<line x1="541.9" y1="26.6" x2="545.8" y2="26.6" stroke="#2a2a2a" stroke-width="1.25" />
<text transform="translate(538,32.7) scale(1.0,1.0)" font-size="16.8" text-anchor="end" fill="#000" >0.54</text>
<line x1="541.9" y1="84" x2="545.8" y2="84" stroke="#2a2a2a" stroke-width="1.25" />
<text transform="translate(538,90.1) scale(1.0,1.0)" font-size="16.8" text-anchor="end" fill="#000" >0.52</text>
<line x1="541.9" y1="141.45" x2="545.8" y2="141.45" stroke="#2a2a2a" stroke-width="1.25" />
<text transform="translate(538,147.55) scale(1.0,1.0)" font-size="16.8" text-anchor="end" fill="#000" >0.50</text>
<line x1="541.9" y1="198.9" x2="545.8" y2="198.9" stroke="#2a2a2a" stroke-width="1.25" />
<text transform="translate(538,205) scale(1.0,1.0)" font-size="16.8" text-anchor="end" fill="#000" >0.48</text>
<line x1="541.9" y1="256.3" x2="545.8" y2="256.3" stroke="#2a2a2a" stroke-width="1.25" />
<text transform="translate(538,262.4) scale(1.0,1.0)" font-size="16.8" text-anchor="end" fill="#000" >0.46</text>
<text transform="translate(645,33) scale(1.0,1.05)" font-size="30.3" text-anchor="middle" fill="#000" >(<tspan font-style="italic">b</tspan>)</text>
<text transform="translate(599.4,74) scale(1.22,1.0)" font-size="29.0" text-anchor="start" fill="#000" ><tspan font-style="italic">J</tspan></text>
<line x1="626.2" y1="64.3" x2="645.1" y2="64.3" stroke="#000" stroke-width="1.25" />
<line x1="626.2" y1="70.1" x2="645.1" y2="70.1" stroke="#000" stroke-width="1.25" />
<text transform="translate(654,74) scale(1.0,1.0)" font-size="29.0" text-anchor="start" fill="#000" >1.0</text>
<text transform="translate(746.2,338.3) scale(1.0,1.0)" font-size="17.5" text-anchor="middle" fill="#000" ><tspan font-style="italic">α</tspan></text>
<g transform="translate(500.6,148.5) rotate(-90)">
<g transform="scale(1.17,1)" font-style="italic" font-size="18.2">
<text x="-16.15" y="0">S</text>
<text x="-0.51" y="0">S</text>
<text x="8.21" y="2.7" font-size="12.6">P</text>
</g>
<line x1="-8.9" y1="4.3" x2="-1" y2="-14.2" stroke="#000" stroke-width="1.05" />
</g>
</g>
<g id="pc">
<clipPath id="cc"><rect x="52.8" y="352.0" width="400.8" height="298.6"/></clipPath>
<g clip-path="url(#cc)">
<polygon points="70.9,599.02 80.24,593.87 89.58,588.74 98.93,583.62 108.27,578.51 117.61,573.42 126.95,568.33 136.3,563.26 145.64,558.2 154.98,553.15 164.32,548.11 173.67,543.09 183.01,538.07 192.35,533.07 201.69,528.08 211.03,523.1 220.38,518.13 229.72,513.18 239.06,508.23 248.4,503.3 257.75,498.38 267.09,493.47 276.43,488.57 285.77,483.69 295.12,478.81 304.46,473.95 313.8,469.1 323.14,464.26 332.48,459.44 341.83,454.62 351.17,449.82 360.51,445.03 369.85,440.25 379.2,435.48 388.54,430.72 397.88,425.98 407.22,421.25 416.57,416.52 425.91,411.81 435.25,407.12 435.25,415.12 425.91,419.41 416.57,423.75 407.22,428.11 397.88,432.51 388.54,436.93 379.2,441.4 369.85,445.89 360.51,450.42 351.17,454.98 341.83,459.57 332.48,464.2 323.14,468.86 313.8,473.55 304.46,478.27 295.12,483.03 285.77,487.82 276.43,492.64 267.09,497.49 257.75,502.38 248.4,507.3 239.06,512.26 229.72,517.24 220.38,522.26 211.03,527.31 201.69,532.4 192.35,537.51 183.01,542.66 173.67,547.85 164.32,553.06 154.98,558.31 145.64,563.59 136.3,568.9 126.95,574.25 117.61,579.63 108.27,585.04 98.93,590.49 89.58,595.96 80.24,601.47 70.9,607.02" fill="#0000ff" fill-opacity="0.22"/>
<polyline points="70.9,600 122.95,577.8 175,545.8 227.05,516.2 279.1,485.7 331.15,464.3 383.2,435.3 435.25,412.1" fill="none" stroke="#0000ff" stroke-width="2.1" stroke-linejoin="round"/>
<polyline points="70.9,603.02 80.24,597.67 89.58,592.35 98.93,587.05 108.27,581.78 117.61,576.52 126.95,571.29 136.3,566.08 145.64,560.89 154.98,555.73 164.32,550.59 173.67,545.47 183.01,540.37 192.35,535.29 201.69,530.24 211.03,525.21 220.38,520.2 229.72,515.21 239.06,510.24 248.4,505.3 257.75,500.38 267.09,495.48 276.43,490.61 285.77,485.75 295.12,480.92 304.46,476.11 313.8,471.32 323.14,466.56 332.48,461.82 341.83,457.1 351.17,452.4 360.51,447.72 369.85,443.07 379.2,438.44 388.54,433.83 397.88,429.24 407.22,424.68 416.57,420.13 425.91,415.61 435.25,411.12" fill="none" stroke="#0000ff" stroke-width="2.1" />
<polyline points="70.9,603.02 80.24,597.67 89.58,592.35 98.93,587.05 108.27,581.78 117.61,576.52 126.95,571.29 136.3,566.08 145.64,560.89 154.98,555.73 164.32,550.59 173.67,545.47 183.01,540.37 192.35,535.29 201.69,530.24 211.03,525.21 220.38,520.2 229.72,515.21 239.06,510.24 248.4,505.3 257.75,500.38 267.09,495.48 276.43,490.61 285.77,485.75 295.12,480.92 304.46,476.11 313.8,471.32 323.14,466.56 332.48,461.82 341.83,457.1 351.17,452.4 360.51,447.72 369.85,443.07 379.2,438.44 388.54,433.83 397.88,429.24 407.22,424.68 416.57,420.13 425.91,415.61 435.25,411.12" fill="none" stroke="#fff" stroke-width="0.9" stroke-dasharray="2.6 1.3 1 1.3 1 9.5" stroke-opacity="0.8"/>
<line x1="70.9" y1="594.2" x2="70.9" y2="605.8" stroke="#0000ff" stroke-width="2" />
<line x1="67.3" y1="594.2" x2="74.5" y2="594.2" stroke="#0000ff" stroke-width="1.3" />
<line x1="67.3" y1="605.8" x2="74.5" y2="605.8" stroke="#0000ff" stroke-width="1.3" />
<line x1="122.95" y1="571.8" x2="122.95" y2="583.8" stroke="#0000ff" stroke-width="2" />
<line x1="119.35" y1="571.8" x2="126.55" y2="571.8" stroke="#0000ff" stroke-width="1.3" />
<line x1="119.35" y1="583.8" x2="126.55" y2="583.8" stroke="#0000ff" stroke-width="1.3" />
<line x1="175" y1="542.3" x2="175" y2="549.3" stroke="#0000ff" stroke-width="2" />
<line x1="171.4" y1="542.3" x2="178.6" y2="542.3" stroke="#0000ff" stroke-width="1.3" />
<line x1="171.4" y1="549.3" x2="178.6" y2="549.3" stroke="#0000ff" stroke-width="1.3" />
<line x1="227.05" y1="512.7" x2="227.05" y2="519.7" stroke="#0000ff" stroke-width="2" />
<line x1="223.45" y1="512.7" x2="230.65" y2="512.7" stroke="#0000ff" stroke-width="1.3" />
<line x1="223.45" y1="519.7" x2="230.65" y2="519.7" stroke="#0000ff" stroke-width="1.3" />
<line x1="279.1" y1="482.4" x2="279.1" y2="489" stroke="#0000ff" stroke-width="2" />
<line x1="275.5" y1="482.4" x2="282.7" y2="482.4" stroke="#0000ff" stroke-width="1.3" />
<line x1="275.5" y1="489" x2="282.7" y2="489" stroke="#0000ff" stroke-width="1.3" />
<line x1="331.15" y1="458.8" x2="331.15" y2="469.8" stroke="#0000ff" stroke-width="2" />
<line x1="327.55" y1="458.8" x2="334.75" y2="458.8" stroke="#0000ff" stroke-width="1.3" />
<line x1="327.55" y1="469.8" x2="334.75" y2="469.8" stroke="#0000ff" stroke-width="1.3" />
<line x1="383.2" y1="432" x2="383.2" y2="438.6" stroke="#0000ff" stroke-width="2" />
<line x1="379.6" y1="432" x2="386.8" y2="432" stroke="#0000ff" stroke-width="1.3" />
<line x1="379.6" y1="438.6" x2="386.8" y2="438.6" stroke="#0000ff" stroke-width="1.3" />
<line x1="435.25" y1="406.2" x2="435.25" y2="418" stroke="#0000ff" stroke-width="2" />
<line x1="431.65" y1="406.2" x2="438.85" y2="406.2" stroke="#0000ff" stroke-width="1.3" />
<line x1="431.65" y1="418" x2="438.85" y2="418" stroke="#0000ff" stroke-width="1.3" />
<polygon points="70.9,626.96 80.24,621.84 89.58,616.63 98.93,611.34 108.27,605.96 117.61,600.5 126.95,594.95 136.3,589.32 145.64,583.61 154.98,577.81 164.32,571.93 173.67,565.96 183.01,559.91 192.35,553.77 201.69,547.55 211.03,541.24 220.38,534.85 229.72,528.38 239.06,521.82 248.4,515.18 257.75,508.45 267.09,501.64 276.43,494.75 285.77,487.77 295.12,480.7 304.46,473.56 313.8,466.32 323.14,459.01 332.48,451.6 341.83,444.12 351.17,436.55 360.51,428.89 369.85,421.15 379.2,413.33 388.54,405.42 397.88,397.43 407.22,389.36 416.57,381.2 425.91,372.95 435.25,364.62 435.25,372.62 425.91,380.55 416.57,388.42 407.22,396.22 397.88,403.96 388.54,411.64 379.2,419.25 369.85,426.8 360.51,434.28 351.17,441.71 341.83,449.07 332.48,456.36 323.14,463.6 313.8,470.77 304.46,477.87 295.12,484.92 285.77,491.9 276.43,498.81 267.09,505.67 257.75,512.46 248.4,519.18 239.06,525.85 229.72,532.45 220.38,538.98 211.03,545.46 201.69,551.87 192.35,558.21 183.01,564.5 173.67,570.72 164.32,576.88 154.98,582.97 145.64,589 136.3,594.97 126.95,600.87 117.61,606.71 108.27,612.49 98.93,618.2 89.58,623.85 80.24,629.44 70.9,634.96" fill="#ff0000" fill-opacity="0.22"/>
<polyline points="70.9,632.7 122.95,595.8 175,569.9 227.05,533 279.1,496.1 331.15,454.4 383.2,410.5 435.25,370.1" fill="none" stroke="#ff0000" stroke-width="2.1" stroke-linejoin="round"/>
<polyline points="70.9,630.96 80.24,625.64 89.58,620.24 98.93,614.77 108.27,609.22 117.61,603.6 126.95,597.91 136.3,592.14 145.64,586.3 154.98,580.39 164.32,574.4 173.67,568.34 183.01,562.2 192.35,555.99 201.69,549.71 211.03,543.35 220.38,536.92 229.72,530.41 239.06,523.84 248.4,517.18 257.75,510.46 267.09,503.66 276.43,496.78 285.77,489.83 295.12,482.81 304.46,475.71 313.8,468.54 323.14,461.3 332.48,453.98 341.83,446.59 351.17,439.13 360.51,431.59 369.85,423.98 379.2,416.29 388.54,408.53 397.88,400.7 407.22,392.79 416.57,384.81 425.91,376.75 435.25,368.62" fill="none" stroke="#ff0000" stroke-width="2.1" />
<polyline points="70.9,630.96 80.24,625.64 89.58,620.24 98.93,614.77 108.27,609.22 117.61,603.6 126.95,597.91 136.3,592.14 145.64,586.3 154.98,580.39 164.32,574.4 173.67,568.34 183.01,562.2 192.35,555.99 201.69,549.71 211.03,543.35 220.38,536.92 229.72,530.41 239.06,523.84 248.4,517.18 257.75,510.46 267.09,503.66 276.43,496.78 285.77,489.83 295.12,482.81 304.46,475.71 313.8,468.54 323.14,461.3 332.48,453.98 341.83,446.59 351.17,439.13 360.51,431.59 369.85,423.98 379.2,416.29 388.54,408.53 397.88,400.7 407.22,392.79 416.57,384.81 425.91,376.75 435.25,368.62" fill="none" stroke="#fff" stroke-width="0.9" stroke-dasharray="2.6 1.3 1 1.3 1 9.5" stroke-opacity="0.8"/>
<line x1="70.9" y1="628.8" x2="70.9" y2="636.6" stroke="#ff0000" stroke-width="2" />
<line x1="67.3" y1="628.8" x2="74.5" y2="628.8" stroke="#ff0000" stroke-width="1.3" />
<line x1="67.3" y1="636.6" x2="74.5" y2="636.6" stroke="#ff0000" stroke-width="1.3" />
<line x1="122.95" y1="591.8" x2="122.95" y2="599.8" stroke="#ff0000" stroke-width="2" />
<line x1="119.35" y1="591.8" x2="126.55" y2="591.8" stroke="#ff0000" stroke-width="1.3" />
<line x1="119.35" y1="599.8" x2="126.55" y2="599.8" stroke="#ff0000" stroke-width="1.3" />
<line x1="175" y1="566.2" x2="175" y2="573.6" stroke="#ff0000" stroke-width="2" />
<line x1="171.4" y1="566.2" x2="178.6" y2="566.2" stroke="#ff0000" stroke-width="1.3" />
<line x1="171.4" y1="573.6" x2="178.6" y2="573.6" stroke="#ff0000" stroke-width="1.3" />
<line x1="227.05" y1="529.1" x2="227.05" y2="536.9" stroke="#ff0000" stroke-width="2" />
<line x1="223.45" y1="529.1" x2="230.65" y2="529.1" stroke="#ff0000" stroke-width="1.3" />
<line x1="223.45" y1="536.9" x2="230.65" y2="536.9" stroke="#ff0000" stroke-width="1.3" />
<line x1="279.1" y1="491.7" x2="279.1" y2="500.5" stroke="#ff0000" stroke-width="2" />
<line x1="275.5" y1="491.7" x2="282.7" y2="491.7" stroke="#ff0000" stroke-width="1.3" />
<line x1="275.5" y1="500.5" x2="282.7" y2="500.5" stroke="#ff0000" stroke-width="1.3" />
<line x1="331.15" y1="451" x2="331.15" y2="457.8" stroke="#ff0000" stroke-width="2" />
<line x1="327.55" y1="451" x2="334.75" y2="451" stroke="#ff0000" stroke-width="1.3" />
<line x1="327.55" y1="457.8" x2="334.75" y2="457.8" stroke="#ff0000" stroke-width="1.3" />
<line x1="383.2" y1="405.9" x2="383.2" y2="415.1" stroke="#ff0000" stroke-width="2" />
<line x1="379.6" y1="405.9" x2="386.8" y2="405.9" stroke="#ff0000" stroke-width="1.3" />
<line x1="379.6" y1="415.1" x2="386.8" y2="415.1" stroke="#ff0000" stroke-width="1.3" />
<line x1="435.25" y1="365.8" x2="435.25" y2="374.4" stroke="#ff0000" stroke-width="2" />
<line x1="431.65" y1="365.8" x2="438.85" y2="365.8" stroke="#ff0000" stroke-width="1.3" />
<line x1="431.65" y1="374.4" x2="438.85" y2="374.4" stroke="#ff0000" stroke-width="1.3" />
<line x1="279.1" y1="352" x2="279.1" y2="650.6" stroke="#1f77b4" stroke-width="1.7" stroke-dasharray="1.7 2.8"/>
<line x1="302.2" y1="470" x2="321.8" y2="470" stroke="#000" stroke-width="1.6" />
<line x1="302.2" y1="466.7" x2="302.2" y2="473.3" stroke="#000" stroke-width="1.4" />
<line x1="321.8" y1="466.7" x2="321.8" y2="473.3" stroke="#000" stroke-width="1.4" />
<line x1="312" y1="468.4" x2="312" y2="471.6" stroke="#000" stroke-width="1.6" />
<line x1="308.7" y1="468.4" x2="315.3" y2="468.4" stroke="#000" stroke-width="1.2" />
<line x1="308.7" y1="471.6" x2="315.3" y2="471.6" stroke="#000" stroke-width="1.2" />
</g>
<rect x="334.5" y="587.8" width="110.5" height="54.7" rx="2.8" fill="#fff" fill-opacity="0.8" stroke="#cfcfcf" stroke-width="1.1"/>
<line x1="340.3" y1="601.7" x2="376" y2="601.7" stroke="#0000ff" stroke-width="2.1" />
<line x1="358.15" y1="593.2" x2="358.15" y2="610.2" stroke="#0000ff" stroke-width="2.0" />
<line x1="354.55" y1="593.2" x2="361.75" y2="593.2" stroke="#0000ff" stroke-width="1.4" />
<line x1="354.55" y1="610.2" x2="361.75" y2="610.2" stroke="#0000ff" stroke-width="1.4" />
<text transform="translate(388.7,608.1) scale(1.0,1.0)" font-size="17.3" text-anchor="start" fill="#000" ><tspan font-style="italic">L</tspan></text>
<line x1="404.8" y1="602.65" x2="416.4" y2="602.65" stroke="#000" stroke-width="0.95" />
<line x1="404.8" y1="605.75" x2="416.4" y2="605.75" stroke="#000" stroke-width="0.95" />
<text transform="translate(421.4,608.1) scale(1.0,1.0)" font-size="17.3" text-anchor="start" fill="#000" >9</text>
<line x1="340.3" y1="626.3" x2="376" y2="626.3" stroke="#ff0000" stroke-width="2.1" />
<line x1="358.15" y1="617.8" x2="358.15" y2="634.8" stroke="#ff0000" stroke-width="2.0" />
<line x1="354.55" y1="617.8" x2="361.75" y2="617.8" stroke="#ff0000" stroke-width="1.4" />
<line x1="354.55" y1="634.8" x2="361.75" y2="634.8" stroke="#ff0000" stroke-width="1.4" />
<text transform="translate(388.7,632.8) scale(1.0,1.0)" font-size="17.3" text-anchor="start" fill="#000" ><tspan font-style="italic">L</tspan></text>
<line x1="404.8" y1="627.35" x2="416.4" y2="627.35" stroke="#000" stroke-width="0.95" />
<line x1="404.8" y1="630.45" x2="416.4" y2="630.45" stroke="#000" stroke-width="0.95" />
<text transform="translate(421.4,632.8) scale(1.0,1.0)" font-size="17.3" text-anchor="start" fill="#000" >11</text>
<rect x="52.8" y="352" width="400.8" height="298.6" fill="none" stroke="#2a2a2a" stroke-width="1.25"/>
<line x1="70.9" y1="650.6" x2="70.9" y2="654.5" stroke="#2a2a2a" stroke-width="1.25" />
<text transform="translate(70.9,670.8) scale(1.0,1.0)" font-size="16.8" text-anchor="middle" fill="#000" >0.70</text>
<line x1="175" y1="650.6" x2="175" y2="654.5" stroke="#2a2a2a" stroke-width="1.25" />
<text transform="translate(175,670.8) scale(1.0,1.0)" font-size="16.8" text-anchor="middle" fill="#000" >0.72</text>
<line x1="279.1" y1="650.6" x2="279.1" y2="654.5" stroke="#2a2a2a" stroke-width="1.25" />
<text transform="translate(279.1,670.8) scale(1.0,1.0)" font-size="16.8" text-anchor="middle" fill="#000" >0.74</text>
<line x1="383.2" y1="650.6" x2="383.2" y2="654.5" stroke="#2a2a2a" stroke-width="1.25" />
<text transform="translate(383.2,670.8) scale(1.0,1.0)" font-size="16.8" text-anchor="middle" fill="#000" >0.76</text>
<line x1="48.9" y1="355.2" x2="52.8" y2="355.2" stroke="#2a2a2a" stroke-width="1.25" />
<text transform="translate(45,361.3) scale(1.0,1.0)" font-size="16.8" text-anchor="end" fill="#000" >0.50</text>
<line x1="48.9" y1="406.1" x2="52.8" y2="406.1" stroke="#2a2a2a" stroke-width="1.25" />
<text transform="translate(45,412.2) scale(1.0,1.0)" font-size="16.8" text-anchor="end" fill="#000" >0.49</text>
<line x1="48.9" y1="457.1" x2="52.8" y2="457.1" stroke="#2a2a2a" stroke-width="1.25" />
<text transform="translate(45,463.2) scale(1.0,1.0)" font-size="16.8" text-anchor="end" fill="#000" >0.48</text>
<line x1="48.9" y1="508" x2="52.8" y2="508" stroke="#2a2a2a" stroke-width="1.25" />
<text transform="translate(45,514.1) scale(1.0,1.0)" font-size="16.8" text-anchor="end" fill="#000" >0.47</text>
<line x1="48.9" y1="559" x2="52.8" y2="559" stroke="#2a2a2a" stroke-width="1.25" />
<text transform="translate(45,565.1) scale(1.0,1.0)" font-size="16.8" text-anchor="end" fill="#000" >0.46</text>
<line x1="48.9" y1="609.9" x2="52.8" y2="609.9" stroke="#2a2a2a" stroke-width="1.25" />
<text transform="translate(45,616) scale(1.0,1.0)" font-size="16.8" text-anchor="end" fill="#000" >0.45</text>
<text transform="translate(150,384.5) scale(1.0,1.05)" font-size="30.3" text-anchor="middle" fill="#000" >(<tspan font-style="italic">c</tspan>)</text>
<text transform="translate(104.4,425.3) scale(1.22,1.0)" font-size="29.0" text-anchor="start" fill="#000" ><tspan font-style="italic">J</tspan></text>
<line x1="131.2" y1="415.6" x2="150.1" y2="415.6" stroke="#000" stroke-width="1.25" />
<line x1="131.2" y1="421.4" x2="150.1" y2="421.4" stroke="#000" stroke-width="1.25" />
<text transform="translate(159,425.3) scale(1.0,1.0)" font-size="29.0" text-anchor="start" fill="#000" >0.2</text>
<text transform="translate(253.2,689.6) scale(1.0,1.0)" font-size="17.5" text-anchor="middle" fill="#000" ><tspan font-style="italic">α</tspan></text>
<text transform="translate(8.3,501) rotate(-90) scale(1.1,1)" font-size="18.6" text-anchor="middle" font-style="italic">r</text>
</g>
<g id="pd">
<clipPath id="cd"><rect x="545.0" y="352.0" width="355.0" height="298.6"/></clipPath>
<g clip-path="url(#cd)">
<path d="M544,661.5 C545.75,659.75 544.75,660.52 554.5,651 C564.25,641.48 586.5,619.4 602.5,604.4 C618.5,589.4 634.5,575.48 650.5,561 C666.5,546.52 682.52,532.58 698.5,517.5 C714.48,502.42 730.42,485.13 746.4,470.5 C762.38,455.87 786.4,436.5 794.4,429.7" fill="none" stroke="#2bfdcd" stroke-width="1.9" stroke-dasharray="7 3.1" stroke-dashoffset="0" stroke-opacity="0.78"/>
<path d="M602.5,620.3 C607.18,615.98 622.6,601.47 630.6,594.4 C638.6,587.33 639.18,588.42 650.5,577.9 C661.82,567.38 685.67,544.03 698.5,531.3 C711.33,518.57 719.52,509.55 727.5,501.5 C735.48,493.45 735.25,493.25 746.4,483 C757.55,472.75 778.4,452.75 794.4,440 C810.4,427.25 834.4,412.08 842.4,406.5" fill="none" stroke="#7dff7a" stroke-width="1.9" stroke-dasharray="7 3.1" stroke-dashoffset="0" stroke-opacity="0.78"/>
<path d="M577,663 C578.63,660.9 582.55,655.57 586.8,650.4 C591.05,645.23 591.88,644.9 602.5,632 C613.12,619.1 634.5,592.12 650.5,573 C666.5,553.88 687.25,529.23 698.5,517.3 C709.75,505.37 710.02,507.78 718,501.4 C725.98,495.02 733.67,489.4 746.4,479 C759.13,468.6 786.4,445.67 794.4,439" fill="none" stroke="#d0ff28" stroke-width="1.9" stroke-dasharray="7 3.1" stroke-dashoffset="3.0" stroke-opacity="0.78"/>
<path d="M604,663.5 C605.75,661.32 606.75,660.43 614.5,650.4 C622.25,640.37 636.5,620.4 650.5,603.3 C664.5,586.2 684.3,564.77 698.5,547.8 C712.7,530.83 727.72,511.05 735.7,501.5 C743.68,491.95 736.62,500.17 746.4,490.5 C756.18,480.83 780.58,455.37 794.4,443.5 C808.22,431.63 822.17,424.05 829.3,419.3 C836.43,414.55 835.02,415.78 837.2,415 C839.38,414.22 841.53,414.67 842.4,414.6" fill="none" stroke="#ffc400" stroke-width="1.9" stroke-dasharray="7 3.1" stroke-dashoffset="0" stroke-opacity="0.78"/>
<path d="M618,663.5 C619.67,661.32 622.58,657.48 628,650.4 C633.42,643.32 638.75,635.07 650.5,621 C662.25,606.93 682.42,585.93 698.5,566 C714.58,546.07 731.02,520.82 747,501.4 C762.98,481.98 778.9,464.73 794.4,449.5 C809.9,434.27 832.4,416.58 840,410" fill="none" stroke="#ff6800" stroke-width="1.9" stroke-dasharray="7 3.1" stroke-dashoffset="5.0" stroke-opacity="0.78"/>
<path d="M618.5,663 C620.13,660.9 622.97,657.48 628.3,650.4 C633.63,643.32 638.8,634.97 650.5,620.5 C662.2,606.03 681.02,583.45 698.5,563.6 C715.98,543.75 739.42,518.5 755.4,501.4 C771.38,484.3 779.9,474.88 794.4,461 C808.9,447.12 826.4,430.43 842.4,418.1 C858.4,405.77 882.4,392.18 890.4,387" fill="none" stroke="#f10800" stroke-width="1.9" stroke-dasharray="7 3.1" stroke-dashoffset="0" stroke-opacity="0.78"/>
<path d="M652,663 C653.67,660.9 654,660.35 662,650.4 C670,640.45 691.15,614.22 700,603.3 C708.85,592.38 703.43,599.65 715.1,584.9 C726.77,570.15 756.78,531.53 770,514.8 C783.22,498.07 782.33,500.13 794.4,484.5 C806.47,468.87 826.4,441.37 842.4,421 C858.4,400.63 882.4,372.08 890.4,362.3" fill="none" stroke="#800000" stroke-width="1.9" stroke-dasharray="7 3.1" stroke-dashoffset="0" stroke-opacity="0.78"/>
<line x1="554.5" y1="641" x2="554.5" y2="663" stroke="#2bfdcd" stroke-width="1.9" />
<circle cx="554.5" cy="652" r="2.5" fill="#2bfdcd"/>
<line x1="602.48" y1="589.5" x2="602.48" y2="611.9" stroke="#2bfdcd" stroke-width="1.9" />
<circle cx="602.48" cy="600.7" r="2.5" fill="#2bfdcd"/>
<line x1="650.46" y1="549.3" x2="650.46" y2="569.9" stroke="#2bfdcd" stroke-width="1.9" />
<circle cx="650.46" cy="559.6" r="2.5" fill="#2bfdcd"/>
<line x1="698.44" y1="514.3" x2="698.44" y2="534.3" stroke="#2bfdcd" stroke-width="1.9" />
<circle cx="698.44" cy="524.3" r="2.5" fill="#2bfdcd"/>
<line x1="746.42" y1="459.5" x2="746.42" y2="480.5" stroke="#2bfdcd" stroke-width="1.9" />
<circle cx="746.42" cy="470" r="2.5" fill="#2bfdcd"/>
<line x1="794.4" y1="420.2" x2="794.4" y2="439.8" stroke="#2bfdcd" stroke-width="1.9" />
<circle cx="794.4" cy="430" r="2.5" fill="#2bfdcd"/>
<line x1="602.48" y1="613.2" x2="602.48" y2="627.2" stroke="#7dff7a" stroke-width="1.9" />
<circle cx="602.48" cy="620.2" r="2.5" fill="#7dff7a"/>
<line x1="650.46" y1="566" x2="650.46" y2="580" stroke="#7dff7a" stroke-width="1.9" />
<circle cx="650.46" cy="573" r="2.5" fill="#7dff7a"/>
<line x1="698.44" y1="530.8" x2="698.44" y2="544.8" stroke="#7dff7a" stroke-width="1.9" />
<circle cx="698.44" cy="537.8" r="2.5" fill="#7dff7a"/>
<line x1="746.42" y1="476" x2="746.42" y2="490" stroke="#7dff7a" stroke-width="1.9" />
<circle cx="746.42" cy="483" r="2.5" fill="#7dff7a"/>
<line x1="794.4" y1="431" x2="794.4" y2="443" stroke="#7dff7a" stroke-width="1.9" />
<circle cx="794.4" cy="437" r="2.5" fill="#7dff7a"/>
<line x1="842.38" y1="401" x2="842.38" y2="413" stroke="#7dff7a" stroke-width="1.9" />
<circle cx="842.38" cy="407" r="2.5" fill="#7dff7a"/>
<line x1="602.48" y1="617.8" x2="602.48" y2="633.8" stroke="#d0ff28" stroke-width="1.9" />
<circle cx="602.48" cy="625.8" r="2.5" fill="#d0ff28"/>
<line x1="650.46" y1="563.5" x2="650.46" y2="579.5" stroke="#d0ff28" stroke-width="1.9" />
<circle cx="650.46" cy="571.5" r="2.5" fill="#d0ff28"/>
<line x1="698.44" y1="505.9" x2="698.44" y2="521.9" stroke="#d0ff28" stroke-width="1.9" />
<circle cx="698.44" cy="513.9" r="2.5" fill="#d0ff28"/>
<line x1="746.42" y1="472.3" x2="746.42" y2="486.3" stroke="#d0ff28" stroke-width="1.9" />
<circle cx="746.42" cy="479.3" r="2.5" fill="#d0ff28"/>
<line x1="794.4" y1="430" x2="794.4" y2="442" stroke="#d0ff28" stroke-width="1.9" />
<circle cx="794.4" cy="436" r="2.5" fill="#d0ff28"/>
<line x1="842.38" y1="390.1" x2="842.38" y2="402.5" stroke="#d0ff28" stroke-width="1.9" />
<circle cx="842.38" cy="396.3" r="2.5" fill="#d0ff28"/>
<line x1="890.36" y1="366" x2="890.36" y2="378" stroke="#d0ff28" stroke-width="1.9" />
<circle cx="890.36" cy="372" r="2.5" fill="#d0ff28"/>
<line x1="650.46" y1="585.9" x2="650.46" y2="601.9" stroke="#ffc400" stroke-width="1.9" />
<circle cx="650.46" cy="593.9" r="2.5" fill="#ffc400"/>
<line x1="698.44" y1="545.1" x2="698.44" y2="559.1" stroke="#ffc400" stroke-width="1.9" />
<circle cx="698.44" cy="552.1" r="2.5" fill="#ffc400"/>
<line x1="746.42" y1="485.9" x2="746.42" y2="499.9" stroke="#ffc400" stroke-width="1.9" />
<circle cx="746.42" cy="492.9" r="2.5" fill="#ffc400"/>
<line x1="794.4" y1="430.7" x2="794.4" y2="442.7" stroke="#ffc400" stroke-width="1.9" />
<circle cx="794.4" cy="436.7" r="2.5" fill="#ffc400"/>
<line x1="842.38" y1="408.5" x2="842.38" y2="420.5" stroke="#ffc400" stroke-width="1.9" />
<circle cx="842.38" cy="414.5" r="2.5" fill="#ffc400"/>
<line x1="890.36" y1="361.7" x2="890.36" y2="373.7" stroke="#ffc400" stroke-width="1.9" />
<circle cx="890.36" cy="367.7" r="2.5" fill="#ffc400"/>
<line x1="650.46" y1="603.7" x2="650.46" y2="619.7" stroke="#ff6800" stroke-width="1.9" />
<circle cx="650.46" cy="611.7" r="2.5" fill="#ff6800"/>
<line x1="698.44" y1="561.7" x2="698.44" y2="577.7" stroke="#ff6800" stroke-width="1.9" />
<circle cx="698.44" cy="569.7" r="2.5" fill="#ff6800"/>
<line x1="746.42" y1="503.3" x2="746.42" y2="519.3" stroke="#ff6800" stroke-width="1.9" />
<circle cx="746.42" cy="511.3" r="2.5" fill="#ff6800"/>
<line x1="794.4" y1="434.9" x2="794.4" y2="449.9" stroke="#ff6800" stroke-width="1.9" />
<circle cx="794.4" cy="442.4" r="2.5" fill="#ff6800"/>
<line x1="842.38" y1="404" x2="842.38" y2="418" stroke="#ff6800" stroke-width="1.9" />
<circle cx="842.38" cy="411" r="2.5" fill="#ff6800"/>
<line x1="890.36" y1="368.9" x2="890.36" y2="382.9" stroke="#ff6800" stroke-width="1.9" />
<circle cx="890.36" cy="375.9" r="2.5" fill="#ff6800"/>
<line x1="698.44" y1="555.8" x2="698.44" y2="578.2" stroke="#f10800" stroke-width="1.9" />
<circle cx="698.44" cy="567" r="2.5" fill="#f10800"/>
<line x1="794.4" y1="454.9" x2="794.4" y2="475.7" stroke="#f10800" stroke-width="1.9" />
<circle cx="794.4" cy="465.3" r="2.5" fill="#f10800"/>
<line x1="842.38" y1="402.3" x2="842.38" y2="418.3" stroke="#f10800" stroke-width="1.9" />
<circle cx="842.38" cy="410.3" r="2.5" fill="#f10800"/>
<line x1="890.36" y1="379" x2="890.36" y2="395" stroke="#f10800" stroke-width="1.9" />
<circle cx="890.36" cy="387" r="2.5" fill="#f10800"/>
<line x1="794.4" y1="473.7" x2="794.4" y2="495.7" stroke="#800000" stroke-width="1.9" />
<circle cx="794.4" cy="484.7" r="2.5" fill="#800000"/>
<line x1="842.38" y1="412.4" x2="842.38" y2="430.4" stroke="#800000" stroke-width="1.9" />
<circle cx="842.38" cy="421.4" r="2.5" fill="#800000"/>
<line x1="890.36" y1="353.8" x2="890.36" y2="369.8" stroke="#800000" stroke-width="1.9" />
<circle cx="890.36" cy="361.8" r="2.5" fill="#800000"/>
<line x1="710.5" y1="501.5" x2="721.5" y2="501.5" stroke="#2bfdcd" stroke-width="1.5" />
<line x1="710.5" y1="498.1" x2="710.5" y2="504.9" stroke="#2bfdcd" stroke-width="1.9" />
<line x1="721.5" y1="498.1" x2="721.5" y2="504.9" stroke="#2bfdcd" stroke-width="1.9" />
<line x1="711.9" y1="497.4" x2="720.1" y2="505.6" stroke="#2bfdcd" stroke-width="2.7" />
<line x1="711.9" y1="505.6" x2="720.1" y2="497.4" stroke="#2bfdcd" stroke-width="2.7" />
<line x1="714.2" y1="501.5" x2="721.4" y2="501.5" stroke="#d0ff28" stroke-width="1.5" />
<line x1="714.2" y1="498.1" x2="714.2" y2="504.9" stroke="#d0ff28" stroke-width="1.9" />
<line x1="721.4" y1="498.1" x2="721.4" y2="504.9" stroke="#d0ff28" stroke-width="1.9" />
<line x1="713.7" y1="497.4" x2="721.9" y2="505.6" stroke="#d0ff28" stroke-width="2.7" />
<line x1="713.7" y1="505.6" x2="721.9" y2="497.4" stroke="#d0ff28" stroke-width="2.7" />
<line x1="725.4" y1="501.5" x2="730.6" y2="501.5" stroke="#7dff7a" stroke-width="1.5" />
<line x1="725.4" y1="498.1" x2="725.4" y2="504.9" stroke="#7dff7a" stroke-width="1.9" />
<line x1="730.6" y1="498.1" x2="730.6" y2="504.9" stroke="#7dff7a" stroke-width="1.9" />
<line x1="723.9" y1="497.4" x2="732.1" y2="505.6" stroke="#7dff7a" stroke-width="2.7" />
<line x1="723.9" y1="505.6" x2="732.1" y2="497.4" stroke="#7dff7a" stroke-width="2.7" />
<line x1="733.2" y1="501.5" x2="737.6" y2="501.5" stroke="#ffc400" stroke-width="1.5" />
<line x1="733.2" y1="498.1" x2="733.2" y2="504.9" stroke="#ffc400" stroke-width="1.9" />
<line x1="737.6" y1="498.1" x2="737.6" y2="504.9" stroke="#ffc400" stroke-width="1.9" />
<line x1="731.3" y1="497.4" x2="739.5" y2="505.6" stroke="#ffc400" stroke-width="2.7" />
<line x1="731.3" y1="505.6" x2="739.5" y2="497.4" stroke="#ffc400" stroke-width="2.7" />
<line x1="744.2" y1="501.5" x2="749.4" y2="501.5" stroke="#ff6800" stroke-width="1.5" />
<line x1="744.2" y1="498.1" x2="744.2" y2="504.9" stroke="#ff6800" stroke-width="1.9" />
<line x1="749.4" y1="498.1" x2="749.4" y2="504.9" stroke="#ff6800" stroke-width="1.9" />
<line x1="742.7" y1="497.4" x2="750.9" y2="505.6" stroke="#ff6800" stroke-width="2.7" />
<line x1="742.7" y1="505.6" x2="750.9" y2="497.4" stroke="#ff6800" stroke-width="2.7" />
<line x1="748.4" y1="501.5" x2="762.6" y2="501.5" stroke="#f10800" stroke-width="1.5" />
<line x1="748.4" y1="498.1" x2="748.4" y2="504.9" stroke="#f10800" stroke-width="1.9" />
<line x1="762.6" y1="498.1" x2="762.6" y2="504.9" stroke="#f10800" stroke-width="1.9" />
<line x1="771.15" y1="501.5" x2="789.85" y2="501.5" stroke="#800000" stroke-width="1.5" />
<line x1="771.15" y1="498.1" x2="771.15" y2="504.9" stroke="#800000" stroke-width="1.9" />
<line x1="789.85" y1="498.1" x2="789.85" y2="504.9" stroke="#800000" stroke-width="1.9" />
<line x1="545.5" y1="501.5" x2="900" y2="501.5" stroke="#000" stroke-width="1.9" stroke-dasharray="1.9 2.57"/>
<line x1="751.4" y1="497.4" x2="759.6" y2="505.6" stroke="#f10800" stroke-width="2.7" />
<line x1="751.4" y1="505.6" x2="759.6" y2="497.4" stroke="#f10800" stroke-width="2.7" />
<line x1="776.4" y1="497.4" x2="784.6" y2="505.6" stroke="#800000" stroke-width="2.7" />
<line x1="776.4" y1="505.6" x2="784.6" y2="497.4" stroke="#800000" stroke-width="2.7" />
</g>
<rect x="545" y="352" width="355" height="298.6" fill="none" stroke="#2a2a2a" stroke-width="1.25"/>
<line x1="554.5" y1="650.6" x2="554.5" y2="654.5" stroke="#2a2a2a" stroke-width="1.25" />
<text transform="translate(554.5,671.1) scale(1.0,1.0)" font-size="16.8" text-anchor="middle" fill="#000" >0.62</text>
<line x1="650.5" y1="650.6" x2="650.5" y2="654.5" stroke="#2a2a2a" stroke-width="1.25" />
<text transform="translate(650.5,671.1) scale(1.0,1.0)" font-size="16.8" text-anchor="middle" fill="#000" >0.64</text>
<line x1="746.4" y1="650.6" x2="746.4" y2="654.5" stroke="#2a2a2a" stroke-width="1.25" />
<text transform="translate(746.4,671.1) scale(1.0,1.0)" font-size="16.8" text-anchor="middle" fill="#000" >0.66</text>
<line x1="842.4" y1="650.6" x2="842.4" y2="654.5" stroke="#2a2a2a" stroke-width="1.25" />
<text transform="translate(842.4,671.1) scale(1.0,1.0)" font-size="16.8" text-anchor="middle" fill="#000" >0.68</text>
<line x1="541.1" y1="365.7" x2="545" y2="365.7" stroke="#2a2a2a" stroke-width="1.25" />
<text transform="translate(537.7,371.8) scale(1.0,1.0)" font-size="16.8" text-anchor="end" fill="#000" >0.525</text>
<line x1="541.1" y1="440.3" x2="545" y2="440.3" stroke="#2a2a2a" stroke-width="1.25" />
<text transform="translate(537.7,446.4) scale(1.0,1.0)" font-size="16.8" text-anchor="end" fill="#000" >0.520</text>
<line x1="541.1" y1="514.9" x2="545" y2="514.9" stroke="#2a2a2a" stroke-width="1.25" />
<text transform="translate(537.7,521) scale(1.0,1.0)" font-size="16.8" text-anchor="end" fill="#000" >0.515</text>
<line x1="541.1" y1="589.5" x2="545" y2="589.5" stroke="#2a2a2a" stroke-width="1.25" />
<text transform="translate(537.7,595.6) scale(1.0,1.0)" font-size="16.8" text-anchor="end" fill="#000" >0.510</text>
<text transform="translate(644.8,384.5) scale(1.0,1.05)" font-size="30.3" text-anchor="middle" fill="#000" >(<tspan font-style="italic">d</tspan>)</text>
<text transform="translate(599.2,425.4) scale(1.22,1.0)" font-size="29.0" text-anchor="start" fill="#000" ><tspan font-style="italic">J</tspan></text>
<line x1="626" y1="415.7" x2="644.9" y2="415.7" stroke="#000" stroke-width="1.25" />
<line x1="626" y1="421.5" x2="644.9" y2="421.5" stroke="#000" stroke-width="1.25" />
<text transform="translate(653.8,425.4) scale(1.0,1.0)" font-size="29.0" text-anchor="start" fill="#000" >0.8</text>
<text transform="translate(722.9,689.6) scale(1.0,1.0)" font-size="17.5" text-anchor="middle" fill="#000" ><tspan font-style="italic">α</tspan></text>
<text transform="translate(492.3,501.2) rotate(-90) scale(1.1,1)" font-size="18.6" text-anchor="middle" font-style="italic">r</text>
<rect x="917.4" y="372.6" width="9.6" height="40.03" fill="#800000"/>
<rect x="917.4" y="412.33" width="9.6" height="40.03" fill="#f10800"/>
<rect x="917.4" y="452.06" width="9.6" height="40.03" fill="#ff6800"/>
<rect x="917.4" y="491.79" width="9.6" height="40.03" fill="#ffc400"/>
<rect x="917.4" y="531.51" width="9.6" height="40.03" fill="#d0ff28"/>
<rect x="917.4" y="571.24" width="9.6" height="40.03" fill="#7dff7a"/>
<rect x="917.4" y="610.97" width="9.6" height="40.03" fill="#2bfdcd"/>
<line x1="923" y1="392.46" x2="927" y2="392.46" stroke="#000" stroke-width="1.25" />
<text transform="translate(931.4,398.66) scale(1.0,1.0)" font-size="16.8" text-anchor="start" fill="#000" >17</text>
<line x1="923" y1="432.19" x2="927" y2="432.19" stroke="#000" stroke-width="1.25" />
<text transform="translate(931.4,438.39) scale(1.0,1.0)" font-size="16.8" text-anchor="start" fill="#000" >16</text>
<line x1="923" y1="471.92" x2="927" y2="471.92" stroke="#000" stroke-width="1.25" />
<text transform="translate(931.4,478.12) scale(1.0,1.0)" font-size="16.8" text-anchor="start" fill="#000" >15</text>
<line x1="923" y1="511.65" x2="927" y2="511.65" stroke="#000" stroke-width="1.25" />
<text transform="translate(931.4,517.85) scale(1.0,1.0)" font-size="16.8" text-anchor="start" fill="#000" >14</text>
<line x1="923" y1="551.38" x2="927" y2="551.38" stroke="#000" stroke-width="1.25" />
<text transform="translate(931.4,557.58) scale(1.0,1.0)" font-size="16.8" text-anchor="start" fill="#000" >13</text>
<line x1="923" y1="591.11" x2="927" y2="591.11" stroke="#000" stroke-width="1.25" />
<text transform="translate(931.4,597.31) scale(1.0,1.0)" font-size="16.8" text-anchor="start" fill="#000" >12</text>
<line x1="923" y1="630.84" x2="927" y2="630.84" stroke="#000" stroke-width="1.25" />
<text transform="translate(931.4,637.04) scale(1.0,1.0)" font-size="16.8" text-anchor="start" fill="#000" >11</text>
<rect x="917.4" y="372.6" width="9.6" height="278.1" fill="none" stroke="#000" stroke-width="0.95"/>
<text transform="translate(916,368.6) scale(1.0,1.0)" font-size="21.2" text-anchor="start" fill="#000" ><tspan font-style="italic">L</tspan></text>
</g>
</svg>
</body></html>
